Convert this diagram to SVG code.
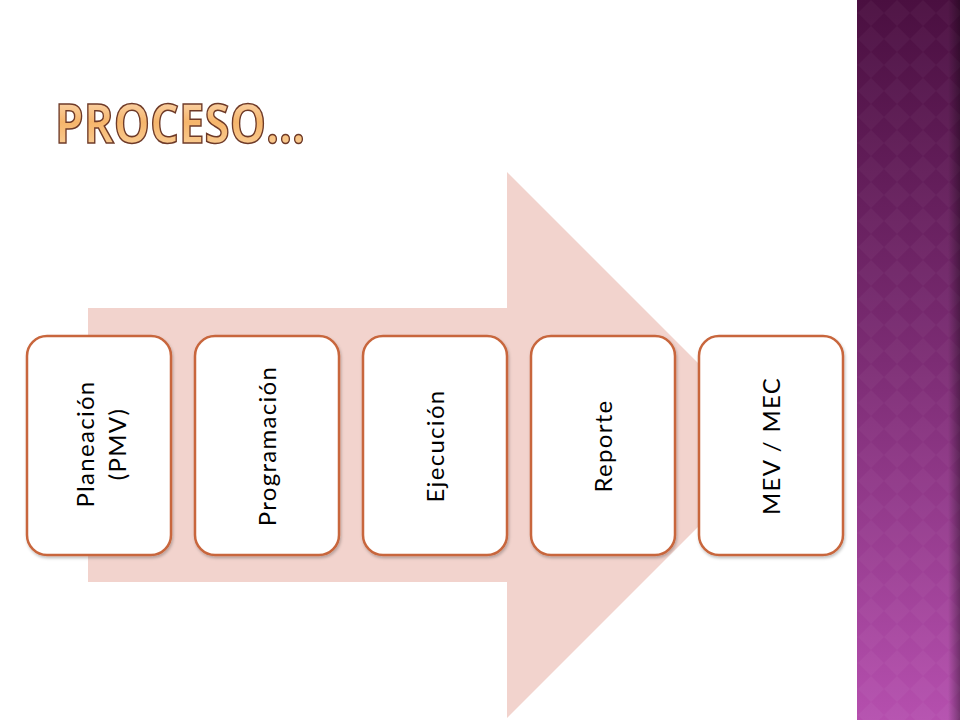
<svg xmlns="http://www.w3.org/2000/svg" width="960" height="720" viewBox="0 0 960 720">
<defs>
<style>
.box{fill:#ffffff;stroke:#c8663c;stroke-width:2.5}
.lbl{font-family:Lato,"Open Sans","Liberation Sans",sans-serif;font-size:24px;fill:#000000;text-anchor:middle;dominant-baseline:central;letter-spacing:1.3px}
.title{font-family:"Open Sans","Liberation Sans",sans-serif;font-size:54px;font-weight:700;fill:url(#tg);stroke:#6e3a28;stroke-width:1.6}
</style>
<linearGradient id="side" x1="0" y1="0" x2="0" y2="1">
<stop offset="0" stop-color="#4a0f40"/>
<stop offset="0.5" stop-color="#7c2c74"/>
<stop offset="1" stop-color="#b54fae"/>
</linearGradient>
<linearGradient id="edge" x1="0" y1="0" x2="1" y2="0">
<stop offset="0" stop-color="#000" stop-opacity="0"/>
<stop offset="1" stop-color="#000" stop-opacity="0.35"/>
</linearGradient>
<linearGradient id="tg" x1="0" y1="0" x2="0" y2="1">
<stop offset="0" stop-color="#fde9d4"/>
<stop offset="0.5" stop-color="#f6b56b"/>
<stop offset="1" stop-color="#fbd9a8"/>
</linearGradient>
<pattern id="dia" width="26" height="26" patternUnits="userSpaceOnUse">
<path d="M13 0 L26 13 L13 26 L0 13 Z" fill="#ffffff" fill-opacity="0.03"/>
</pattern>
<filter id="sh" x="-10%" y="-10%" width="120%" height="120%">
<feDropShadow dx="1" dy="2" stdDeviation="1.5" flood-color="#000" flood-opacity="0.25"/>
</filter>
</defs>
<rect width="960" height="720" fill="#ffffff"/>
<g id="sidebar">
<rect x="857" y="0" width="103" height="720" fill="url(#side)"/>
<rect x="857" y="0" width="103" height="720" fill="url(#dia)"/>
<rect x="948" y="0" width="12" height="720" fill="url(#edge)"/>
</g>
<g id="title">
<text x="55" y="143" class="title" textLength="250" lengthAdjust="spacingAndGlyphs">PROCESO…</text>
</g>
<g id="arrow">
<path d="M88 308 H507 V172 L780 445 L507 718 V582 H88 Z" fill="#f2d3cd"/>
</g>
<g id="node1">
<rect class="box" x="27" y="336" width="144" height="219" rx="20" filter="url(#sh)"/>
<text class="lbl" transform="translate(84,444) rotate(-90)">Planeación</text>
<text class="lbl" transform="translate(116,444) rotate(-90)" letter-spacing="3">(PMV)</text>
</g>
<g id="node2">
<rect class="box" x="195" y="336" width="144" height="219" rx="20" filter="url(#sh)"/>
<text class="lbl" transform="translate(266,446) rotate(-90)">Programación</text>
</g>
<g id="node3">
<rect class="box" x="363" y="336" width="144" height="219" rx="20" filter="url(#sh)"/>
<text class="lbl" transform="translate(434,446) rotate(-90)">Ejecución</text>
</g>
<g id="node4">
<rect class="box" x="531" y="336" width="144" height="219" rx="20" filter="url(#sh)"/>
<text class="lbl" transform="translate(602,446) rotate(-90)">Reporte</text>
</g>
<g id="node5">
<rect class="box" x="699" y="336" width="144" height="219" rx="20" filter="url(#sh)"/>
<text class="lbl" transform="translate(770,446) rotate(-90)" letter-spacing="2.5">MEV / MEC</text>
</g>
<g id="connectors"></g>
</svg>
